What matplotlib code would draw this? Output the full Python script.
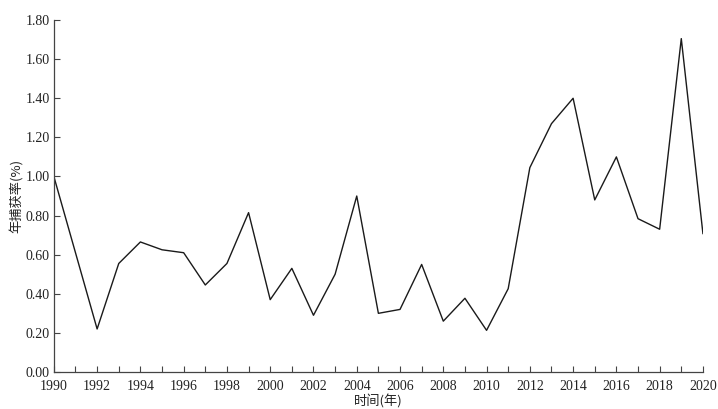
import matplotlib
matplotlib.use('Agg')
import matplotlib.pyplot as plt

# annual catch rate (%) by year
years = list(range(1990, 2021))
rates = [1.00, 0.61, 0.22, 0.555, 0.665, 0.625, 0.61, 0.445, 0.555, 0.815,
         0.37, 0.53, 0.29, 0.50, 0.90, 0.30, 0.32, 0.55, 0.26, 0.377,
         0.213, 0.426, 1.045, 1.27, 1.40, 0.88, 1.10, 0.784, 0.73, 1.705,
         0.708]
xticks = list(range(1990, 2021, 2))
yticks = [0.0, 0.2, 0.4, 0.6, 0.8, 1.0, 1.2, 1.4, 1.6, 1.8]

plt.rcParams['font.family'] = ['Liberation Serif', 'Noto Sans CJK SC']

fig = plt.figure(figsize=(7.18, 4.09), dpi=100)
ax = fig.add_axes([0.075, 0.0905, 0.904, 0.8605])

ax.plot(years, rates, color='#1a1a1a', linewidth=1.0)

ax.set_xlim(1990, 2020)
ax.set_ylim(0, 1.8)
ax.set_xticks(xticks)
ax.set_xticks(years, minor=True)
ax.set_yticks(yticks)
ax.set_yticklabels(['{:.2f}'.format(v) for v in yticks])

for s in ['top', 'right']:
    ax.spines[s].set_visible(False)
for s in ['left', 'bottom']:
    ax.spines[s].set_color('#444444')
    ax.spines[s].set_linewidth(0.9)

ax.tick_params(axis='both', which='both', direction='in', colors='#444444',
               labelcolor='#222222', labelsize=10, width=0.8)
ax.tick_params(axis='both', which='major', length=4)
ax.tick_params(axis='x', which='minor', length=4)
ax.tick_params(axis='x', which='major', pad=6)
ax.tick_params(axis='y', which='major', pad=3)

ax.set_xlabel('时间(年)', fontsize=9.5, labelpad=1, color='#222222',
              family=['Noto Sans CJK SC'])
ax.set_ylabel('年捕获率(%)', fontsize=9.5, labelpad=1, color='#222222',
              family=['Noto Sans CJK SC'])

fig.savefig('out.png', dpi=100)
